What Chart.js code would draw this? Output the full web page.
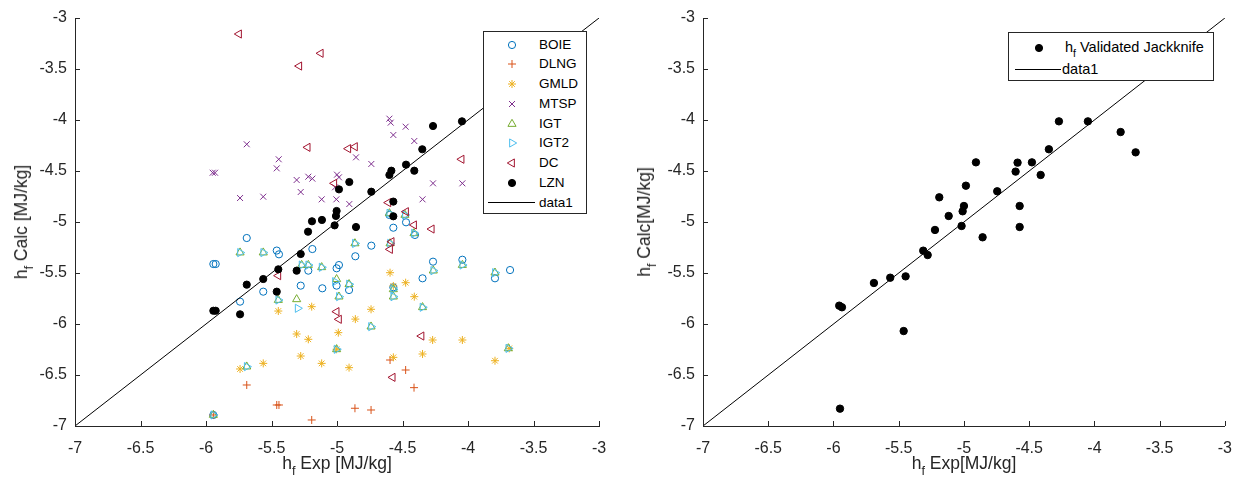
<!DOCTYPE html>
<html>
<head>
<meta charset="utf-8">
<script src="https://cdn.jsdelivr.net/npm/chart.js@4/dist/chart.umd.min.js"></script>
<style>
  html, body { margin:0; padding:0; background:#fff; }
  body { width:1233px; height:481px; position:relative; overflow:hidden; font-family:"Liberation Sans", Arial, sans-serif; }
  canvas { position:absolute; top:0; }
  .title { position:absolute; font-size:17.5px; line-height:20px; color:#262626; white-space:nowrap; }
  .title sub { font-size:0.72em; vertical-align:-0.5em; line-height:0; }
  .legend { position:absolute; background:#fff; border:1px solid #262626; box-sizing:border-box; }
  .legend .row { position:absolute; white-space:nowrap; color:#000; }
  .legend svg { position:absolute; overflow:visible; }
  .legend sub { font-size:0.72em; vertical-align:-0.5em; line-height:0; }
</style>
</head>
<body>
<canvas id="left" width="620" height="481" style="left:0"></canvas>
<canvas id="right" width="625" height="481" style="left:620px"></canvas>

<div class="title" style="left:337px;top:453px;transform:translateX(-50%)">h<sub>f</sub> Exp [MJ/kg]</div>
<div class="title" style="left:21px;top:222px;transform:translate(-50%,-50%) rotate(-90deg)">h<sub>f</sub> Calc [MJ/kg]</div>
<div class="title" style="left:964px;top:453px;transform:translateX(-50%)">h<sub>f</sub> Exp[MJ/kg]</div>
<div class="title" style="left:644px;top:222px;transform:translate(-50%,-50%) rotate(-90deg)">h<sub>f</sub> Calc[MJ/kg]</div>

<div id="legL" class="legend" style="left:483px;top:31px;width:104px;height:183px;font-size:13.5px"></div>
<div id="legR" class="legend" style="left:1008px;top:32px;width:206px;height:49px;font-size:14.5px"></div>

<script>
// ---------- axis ticks ----------
const xTicks = [-7, -6.5, -6, -5.5, -5, -4.5, -4, -3.5, -3];
const yTicks = [-7, -6.5, -6, -5.5, -5, -4.5, -4, -3.5, -3];
const xTickLabels = ['-7', '-6.5', '-6', '-5.5', '-5', '-4.5', '-4', '-3.5', '-3'];
const yTickLabels = ['-7', '-6.5', '-6', '-5.5', '-5', '-4.5', '-4', '-3.5', '-3'];

// ---------- series names ----------
const seriesNames = ['BOIE', 'DLNG', 'GMLD', 'MTSP', 'IGT', 'IGT2', 'DC', 'LZN'];

// ---------- series values [x = hf Exp, y = hf Calc] ----------
const BOIE = [[-5.944,-5.412],[-5.926,-5.412],[-5.740,-5.781],[-5.689,-5.157],[-5.563,-5.683],
  [-5.460,-5.280],[-5.443,-5.317],[-5.277,-5.624],[-5.219,-5.477],[-5.188,-5.265],[-5.112,-5.650],
  [-5.003,-5.454],[-4.985,-5.422],[-5.003,-5.624],[-4.908,-5.667],[-4.860,-5.336],[-4.600,-4.931],
  [-4.570,-5.056],[-4.473,-5.003],[-4.405,-5.127],[-4.738,-5.232],[-4.267,-5.389],[-4.043,-5.370],
  [-4.347,-5.552],[-3.794,-5.552],[-4.570,-5.640],[-3.679,-5.471],[-5.944,-6.892]];
const DLNG = [[-5.689,-6.598],[-5.460,-6.794],[-5.443,-6.794],[-5.193,-6.941],[-4.863,-6.826],
  [-4.740,-6.843],[-4.595,-6.353],[-4.476,-6.451],[-4.412,-6.624],[-5.944,-6.892]];
const GMLD = [[-5.448,-5.873],[-5.193,-5.830],[-5.308,-6.098],[-5.219,-6.150],[-4.990,-6.085],
  [-5.277,-6.314],[-5.117,-6.386],[-5.563,-6.386],[-5.740,-6.441],[-4.908,-6.428],[-5.003,-6.248],
  [-4.860,-5.952],[-4.595,-5.497],[-4.476,-5.595],[-4.570,-5.627],[-4.410,-5.732],[-4.740,-5.856],
  [-4.270,-6.157],[-4.043,-6.157],[-4.347,-6.294],[-4.570,-6.327],[-3.794,-6.360],[-3.685,-6.239]];
const MTSP = [[-5.689,-4.238],[-5.445,-4.385],[-5.460,-4.474],[-5.949,-4.517],[-5.931,-4.517],
  [-5.308,-4.588],[-5.219,-4.556],[-5.188,-4.575],[-5.277,-4.706],[-5.740,-4.765],[-5.563,-4.752],
  [-5.117,-4.778],[-5.005,-4.778],[-4.906,-4.824],[-5.000,-4.536],[-4.985,-4.562],[-5.015,-4.660],
  [-4.600,-3.987],[-4.590,-4.026],[-4.476,-4.066],[-4.570,-4.147],[-4.410,-4.206],[-4.855,-4.366],
  [-4.738,-4.431],[-4.267,-4.621],[-4.043,-4.621],[-4.347,-4.778]];
const IGT = [[-5.740,-5.300],[-5.563,-5.300],[-4.863,-5.210],[-4.600,-4.915],[-4.481,-4.931],
  [-4.412,-5.111],[-4.595,-5.210],[-5.270,-5.422],[-5.219,-5.422],[-5.117,-5.444],[-5.003,-5.561],
  [-4.908,-5.610],[-4.985,-5.732],[-5.448,-5.765],[-5.308,-5.758],[-5.003,-6.248],[-5.689,-6.418],
  [-5.944,-6.892],[-4.265,-5.477],[-4.043,-5.422],[-3.794,-5.497],[-4.570,-5.660],[-4.570,-5.732],
  [-4.347,-5.836],[-4.740,-6.026],[-3.692,-6.239]];
const IGT2 = [[-5.740,-5.300],[-5.563,-5.300],[-4.863,-5.210],[-4.600,-4.915],[-4.481,-4.931],
  [-4.412,-5.111],[-4.595,-5.210],[-5.270,-5.422],[-5.219,-5.422],[-5.117,-5.444],[-5.015,-5.585],
  [-4.908,-5.610],[-4.985,-5.732],[-5.448,-5.765],[-5.300,-5.846],[-5.003,-6.248],[-5.689,-6.418],
  [-5.944,-6.892],[-4.265,-5.477],[-4.043,-5.422],[-3.794,-5.497],[-4.570,-5.660],[-4.570,-5.732],
  [-4.347,-5.836],[-4.740,-6.026],[-3.692,-6.239]];
const DC = [[-5.748,-3.157],[-5.124,-3.346],[-5.288,-3.471],[-5.224,-4.268],[-4.914,-4.281],
  [-4.863,-4.262],[-5.021,-4.621],[-4.049,-4.385],[-4.608,-4.810],[-4.473,-4.899],[-4.412,-5.029],
  [-4.277,-5.069],[-4.583,-5.193],[-4.595,-5.268],[-5.448,-5.526],[-5.003,-5.879],[-4.985,-5.954],
  [-4.355,-6.118],[-4.575,-6.523]];
const LZN = [[-4.906,-4.608],[-4.985,-4.680],[-5.003,-4.892],[-5.008,-4.941],[-5.018,-5.033],
  [-5.115,-4.980],[-5.191,-4.993],[-5.221,-5.095],[-4.855,-5.049],[-5.277,-5.314],[-4.267,-4.059],
  [-4.046,-4.013],[-4.349,-4.287],[-4.473,-4.438],[-4.585,-4.497],[-4.600,-4.539],[-4.410,-4.497],
  [-4.738,-4.703],[-4.570,-4.800],[-4.570,-4.944],[-5.448,-5.464],[-5.308,-5.477],[-5.689,-5.614],
  [-5.563,-5.559],[-5.460,-5.683],[-5.944,-5.870],[-5.926,-5.870],[-5.740,-5.905]];
const JACKKNIFE = [[-4.908,-4.415],[-4.985,-4.644],[-5.189,-4.758],[-5.000,-4.843],[-5.010,-4.895],
  [-5.117,-4.941],[-4.745,-4.699],[-5.222,-5.078],[-5.018,-5.039],[-4.857,-5.150],[-5.312,-5.281],
  [-5.278,-5.324],[-5.447,-5.533],[-5.565,-5.546],[-5.690,-5.598],[-5.956,-5.820],[-5.935,-5.836],
  [-5.462,-6.069],[-4.272,-4.013],[-4.050,-4.013],[-3.799,-4.118],[-3.684,-4.317],[-4.349,-4.287],
  [-4.589,-4.418],[-4.479,-4.415],[-4.604,-4.506],[-4.412,-4.539],[-4.573,-4.843],[-4.573,-5.049],
  [-5.950,-6.830]];
const IDENTITY = [[-7,-7],[-3,-3]];

// ---------- styling ----------
const seriesData = [BOIE, DLNG, GMLD, MTSP, IGT, IGT2, DC, LZN];
const seriesColors = ['#0072BD','#D95319','#EDB120','#7E2F8E','#77AC30','#4DBEEE','#A2142F','#000000'];
const seriesStyles = ['circle','cross','star','crossRot','triangle','triangle','triangle','circle'];
const seriesRot = [0,0,0,0,0,90,-90,0];
const seriesRadius = [3.6,4,4,4.2,4.7,4.7,4.7,3.6];
const seriesFilled = [false,false,false,false,false,false,false,true];

const toXY = arr => arr.map(p => ({x:p[0], y:p[1]}));
const FONT = '"Liberation Sans", Arial, sans-serif';
const AX = '#262626';

const insideTicks = {
  id:'insideTicks',
  afterDraw(chart){
    const {ctx, chartArea:a, scales:{x, y}} = chart;
    ctx.save();
    ctx.strokeStyle = AX; ctx.lineWidth = 1;
    ctx.beginPath();
    x.ticks.forEach(t => { const p = Math.round(x.getPixelForValue(t.value)) + 0.5; ctx.moveTo(p, a.bottom); ctx.lineTo(p, a.bottom - 5); });
    y.ticks.forEach(t => { const p = Math.round(y.getPixelForValue(t.value)) + 0.5; ctx.moveTo(a.left, p); ctx.lineTo(a.left + 5, p); });
    ctx.stroke();
    ctx.restore();
  }
};

function scales(yWidth){
  return {
    x: { type:'linear', min:-7, max:-3,
         afterBuildTicks: s => { s.ticks = xTicks.map(v => ({value:v})); },
         grid:{display:false, drawTicks:false}, border:{display:true, color:AX, width:1},
         ticks:{ color:AX, font:{family:FONT, size:16}, autoSkip:false, maxRotation:0, padding:13,
                 callback:(v, i) => xTickLabels[i] },
         afterFit: s => { s.height = 55; } },
    y: { type:'linear', min:-7, max:-3,
         afterBuildTicks: s => { s.ticks = yTicks.map(v => ({value:v})); },
         grid:{display:false, drawTicks:false}, border:{display:true, color:AX, width:1},
         ticks:{ color:AX, font:{family:FONT, size:16}, autoSkip:false, padding:8,
                 callback:(v, i) => yTickLabels[i] },
         afterFit: s => { s.width = yWidth; } }
  };
}

const common = (padRight, yWidth) => ({
  responsive:false, animation:false, devicePixelRatio:1,
  layout:{ padding:{left:0, top:18, right:padRight, bottom:0} },
  plugins:{ legend:{display:false}, tooltip:{enabled:false} },
  scales: scales(yWidth)
});

// Left chart
const leftSets = seriesData.map((d, i) => ({
  label: seriesNames[i], data: toXY(d),
  pointStyle: seriesStyles[i], rotation: seriesRot[i], pointRadius: seriesRadius[i],
  borderColor: seriesColors[i], backgroundColor: seriesFilled[i] ? seriesColors[i] : 'rgba(0,0,0,0)',
  borderWidth: 1, order: 20 - i
}));
leftSets.push({ label:'data1', data: toXY(IDENTITY), showLine:true, pointRadius:0,
  borderColor:'#000', borderWidth:1, order:0 });

new Chart(document.getElementById('left'), {
  type:'scatter', data:{ datasets: leftSets },
  options: common(21, 75), plugins:[insideTicks]
});

// Right chart
new Chart(document.getElementById('right'), {
  type:'scatter',
  data:{ datasets:[
    { label:'hf Validated Jackknife', data: toXY(JACKKNIFE), pointStyle:'circle', pointRadius:3.7,
      borderColor:'#000', backgroundColor:'#000', borderWidth:1, order:2 },
    { label:'data1', data: toXY(IDENTITY), showLine:true, pointRadius:0, borderColor:'#000', borderWidth:1, order:0 }
  ]},
  options: common(20, 83), plugins:[insideTicks]
});

// ---------- HTML legends ----------
function markerSVG(style, color, rot, filled){
  let s = '';
  const f = filled ? color : 'none';
  if (style === 'circle') s = `<circle cx="0" cy="0" r="3.6" fill="${f}" stroke="${color}" stroke-width="1"/>`;
  else if (style === 'cross') s = `<path d="M-4 0H4M0 -4V4" stroke="${color}" stroke-width="1"/>`;
  else if (style === 'crossRot') s = `<path d="M-3 -3L3 3M-3 3L3 -3" stroke="${color}" stroke-width="1"/>`;
  else if (style === 'star') s = `<path d="M-4 0H4M0 -4V4M-2.8 -2.8L2.8 2.8M-2.8 2.8L2.8 -2.8" stroke="${color}" stroke-width="1"/>`;
  else if (style === 'triangle') s = `<g transform="rotate(${rot})"><path d="M0 -4.7L4.07 2.35L-4.07 2.35Z" fill="none" stroke="${color}" stroke-width="1"/></g>`;
  return `<svg width="1" height="1">${s}</svg>`;
}
const legL = document.getElementById('legL');
seriesNames.forEach((n, i) => {
  const cy = 12.5 + 19.75 * i;
  const m = document.createElement('div');
  m.className = 'row';
  m.style.left = '28px'; m.style.top = cy + 'px';
  m.innerHTML = markerSVG(seriesStyles[i], seriesColors[i], seriesRot[i], seriesFilled[i]);
  legL.appendChild(m);
  const t = document.createElement('div');
  t.className = 'row';
  t.style.left = '55px'; t.style.top = (cy - 8) + 'px'; t.style.lineHeight = '16px';
  t.textContent = n;
  legL.appendChild(t);
});
{
  const cy = 12.5 + 19.75 * 8;
  const l = document.createElement('div');
  l.className = 'row';
  l.style.left = '4px'; l.style.top = cy + 'px'; l.style.width = '47px'; l.style.height = '0';
  l.style.borderTop = '1px solid #000'; l.style.marginTop = '-0.5px';
  legL.appendChild(l);
  const t = document.createElement('div');
  t.className = 'row';
  t.style.left = '55px'; t.style.top = (cy - 8) + 'px'; t.style.lineHeight = '16px';
  t.textContent = 'data1';
  legL.appendChild(t);
}
const legR = document.getElementById('legR');
legR.innerHTML =
  `<div class="row" style="left:30px;top:15px">${markerSVG('circle','#000',0,true)}</div>` +
  `<div class="row" style="left:56px;top:6px;line-height:17px">h<sub>f</sub> Validated Jackknife</div>` +
  `<div class="row" style="left:6px;top:35.5px;width:46px;height:0;border-top:1px solid #000"></div>` +
  `<div class="row" style="left:53px;top:28px;line-height:17px">data1</div>`;
</script>
</body>
</html>
